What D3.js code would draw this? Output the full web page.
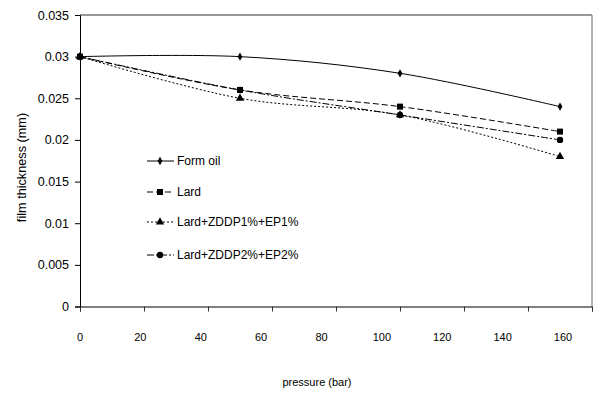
<!DOCTYPE html>
<html><head><meta charset="utf-8">
<script src="https://cdn.jsdelivr.net/npm/d3@7/dist/d3.min.js"></script>
<style>body{margin:0;background:#fff}svg{display:block}text{font-family:"Liberation Sans",Arial,sans-serif;fill:#000}</style>
</head><body><svg id="c" width="615" height="394"></svg>
<script>
const pressure = [0, 50, 100, 150];
const formOil = [0.030, 0.030, 0.028, 0.024];
const lard = [0.030, 0.026, 0.024, 0.021];
const lardZ1 = [0.030, 0.025, 0.023, 0.018];
const lardZ2 = [0.030, 0.026, 0.023, 0.020];
const seriesNames = ["Form oil", "Lard", "Lard+ZDDP1%+EP1%", "Lard+ZDDP2%+EP2%"];
const xTicks = [0, 20, 40, 60, 80, 100, 120, 140, 160];
const yTicks = [0, 0.005, 0.01, 0.015, 0.02, 0.025, 0.03, 0.035];

const series = [
  {name: seriesNames[0], values: formOil, dash: null, sym: d3.symbolDiamond, size: 20},
  {name: seriesNames[1], values: lard, dash: "6,3", sym: d3.symbolSquare, size: 36},
  {name: seriesNames[2], values: lardZ1, dash: "2,2", sym: d3.symbolTriangle, size: 30},
  {name: seriesNames[3], values: lardZ2, dash: "7,2,2,2", sym: d3.symbolCircle, size: 32}
];

const svg = d3.select("#c");
const L = 80, R = 592, T = 15, B = 306.5;
const x = d3.scaleLinear().domain([0, 160]).range([L, R]);
const xLab = d3.scaleLinear().domain([0, 160]).range([79.5, 562.5]);
const y = d3.scaleLinear().domain([0, 0.035]).range([B, T]);

// frame top/right
svg.append("line").attr("x1", L).attr("x2", R).attr("y1", T).attr("y2", T).attr("stroke", "#333");
svg.append("line").attr("x1", R).attr("x2", R).attr("y1", T).attr("y2", B).attr("stroke", "#666");

// x axis
const gx = svg.append("g").attr("transform", `translate(0,${B})`)
  .call(d3.axisBottom(x).tickValues(xTicks).tickSize(5).tickFormat(""));
gx.select(".domain").attr("stroke", "#000");
gx.selectAll(".tick line").attr("stroke", "#333");
const gxl = svg.append("g").attr("transform", `translate(0,${B + 24})`)
  .call(d3.axisBottom(xLab).tickValues(xTicks).tickSize(0).tickFormat(d3.format("d")));
gxl.select(".domain").remove();
gxl.selectAll("text").attr("font-size", 11).attr("font-family", "Liberation Sans, Arial, sans-serif");

// y axis
const gy = svg.append("g").attr("transform", `translate(${L},0)`)
  .call(d3.axisLeft(y).tickValues(yTicks).tickSize(5).tickPadding(6).tickFormat(d => d === 0 ? "0" : String(+d.toFixed(3))));
gy.select(".domain").attr("stroke", "#000");
gy.selectAll("text").attr("font-size", 12.5).attr("font-family", "Liberation Sans, Arial, sans-serif");

// titles
svg.append("text").attr("x", 317).attr("y", 386).attr("text-anchor", "middle").attr("font-size", 11).text("pressure (bar)");
svg.append("text").attr("transform", "translate(26,167.5) rotate(-90)").attr("text-anchor", "middle").attr("font-size", 12.7).text("film thickness (mm)");

const line = d3.line().x(d => x(d[0])).y(d => y(d[1])).curve(d3.curveCatmullRom.alpha(0));
series.forEach(s => {
  const pts = pressure.map((p, i) => [p, s.values[i]]);
  svg.append("path").attr("d", line(pts)).attr("fill", "none").attr("stroke", "#000").attr("stroke-width", 1)
    .attr("stroke-dasharray", s.dash);
  svg.selectAll(null).data(pts).enter().append("path")
    .attr("d", d3.symbol().type(s.sym).size(s.size))
    .attr("transform", d => `translate(${x(d[0])},${y(d[1])})`).attr("fill", "#000");
});

// legend
const ly = [161, 192, 222, 255];
series.forEach((s, i) => {
  const g = svg.append("g").attr("transform", `translate(0,${ly[i]})`);
  g.append("line").attr("x1", 147).attr("x2", 174).attr("stroke", "#000").attr("stroke-dasharray", s.dash);
  g.append("path").attr("d", d3.symbol().type(s.sym).size(s.size)).attr("transform", "translate(160,0)");
  g.append("text").attr("x", 177).attr("y", 4).attr("font-size", 12).text(s.name);
});
</script></body></html>
